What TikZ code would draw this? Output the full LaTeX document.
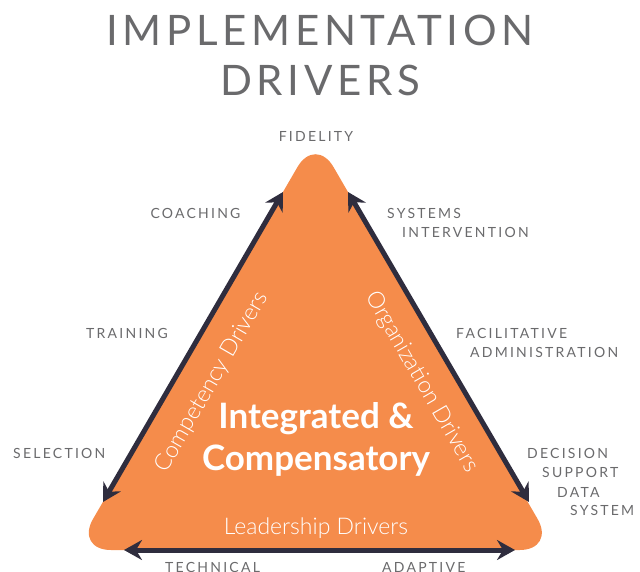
\documentclass[tikz,border=0pt]{standalone}
\usepackage{fontspec}
\setmainfont{Lato}
\newfontfamily\titlefont[LetterSpace=11]{Lato}
\newfontfamily\labelfont[LetterSpace=16]{Lato}
\newfontfamily\innerfont{Lato}
\newfontfamily\thinfont{Lato Light}
\usetikzlibrary{arrows.meta}
\definecolor{drvorange}{HTML}{F58C4B}
\definecolor{drvnavy}{HTML}{2F2D3E}
\definecolor{drvgray}{HTML}{6A6A6C}
\begin{document}
\begin{tikzpicture}[x=1pt,y=-1pt,
  headline/.style={text=drvgray, inner sep=0pt, font=\titlefont\fontsize{42}{42}\selectfont},
  driver/.style={text=drvgray, inner sep=0pt, font=\labelfont\fontsize{14}{17}\selectfont},
  sidelabel/.style={text=white, inner sep=0pt, font=\thinfont\fontsize{23}{23}\selectfont},
  twoway/.style={draw=drvnavy, line width=5pt,
    {Stealth[length=18pt,width=20pt,inset=6pt]}-{Stealth[length=18pt,width=20pt,inset=6pt]}}
]
\useasboundingbox (0,0) rectangle (640,571);

% heading
\node[headline] (t1) at (320,30) {IMPLEMENTATION};
\node[headline] (t2) at (320,80) {DRIVERS};

% the triangle
\fill[drvorange, rounded corners=36pt] (315.5,136) -- (555.6,550) -- (75,550) -- cycle;

% end points of the three edge arrows
\coordinate (lt) at (283,192);
\coordinate (lb) at (103,502);
\coordinate (rt) at (348,192);
\coordinate (rb) at (529,502);
\coordinate (bl) at (124,550);
\coordinate (br) at (515,550);

\draw[twoway] (lt) -- (lb);
\draw[twoway] (rt) -- (rb);
\draw[twoway] (bl) -- (br);

% texts inside the triangle
\node[text=white, inner sep=0pt, align=center,
      font=\innerfont\bfseries\fontsize{35}{42}\selectfont] (core) at (316,439)
      {Integrated \&\\Compensatory};
\node[sidelabel] (lead) at (316,528) {Leadership Drivers};
\node[sidelabel, rotate=60] (comp) at (212,382) {Competency Drivers};
\node[sidelabel, rotate=-60] (org) at (422,382) {Organization Drivers};

% driver labels
\node[driver] (fid) at (316,136) {FIDELITY};
\node[driver] (coach) at (195.5,213) {COACHING};
\node[driver, anchor=west] (sys1) at (387,213) {SYSTEMS};
\node[driver, anchor=west] (sys2) at (402,232) {INTERVENTION};
\node[driver] (train) at (127,333) {TRAINING};
\node[driver, anchor=west] (fac1) at (456,333) {FACILITATIVE};
\node[driver, anchor=west] (fac2) at (470,352) {ADMINISTRATION};
\node[driver, anchor=west] (sel) at (13,453) {SELECTION};
\node[driver, anchor=west] (dec1) at (527,453) {DECISION};
\node[driver, anchor=west] (dec2) at (542,472) {SUPPORT};
\node[driver, anchor=west] (dec3) at (557,492) {DATA};
\node[driver, anchor=west] (dec4) at (570,510) {SYSTEM};
\node[driver, anchor=west] (tech) at (165,567) {TECHNICAL};
\node[driver, anchor=west] (adap) at (382,567) {ADAPTIVE};
\end{tikzpicture}
\end{document}
